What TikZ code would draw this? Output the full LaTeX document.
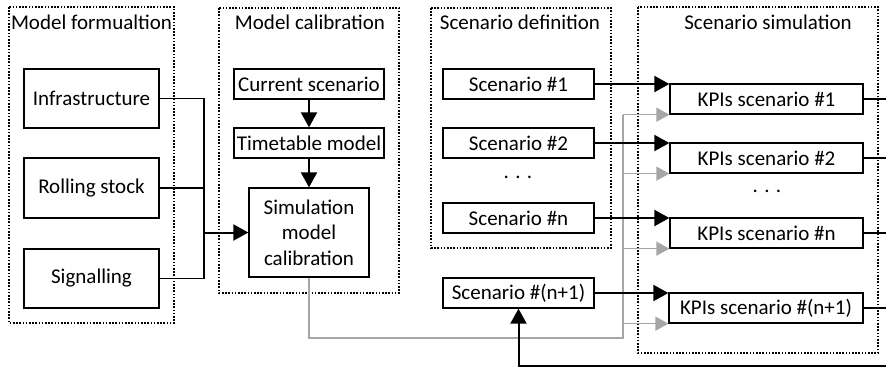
\documentclass[tikz,border=0pt]{standalone}
\usepackage{fontspec}
\setmainfont{Carlito}
\usetikzlibrary{arrows.meta}
\definecolor{feedgray}{RGB}{166,166,166}
\begin{document}
\begin{tikzpicture}[x=1pt,y=-1pt,
  font=\fontsize{21}{25.5}\selectfont,
  box/.style={draw, line width=1.3pt, inner sep=0pt, align=center},
  frame/.style={draw, line width=1.2pt, dash pattern=on 1.6pt off 1.6pt},
  ttl/.style={inner sep=0pt},
  wire/.style={line width=1.2pt},
  flow/.style={line width=2pt, -{Triangle[length=15pt,width=16pt]}},
  feedline/.style={line width=1.5pt, draw=feedgray},
  feed/.style={line width=1.5pt, draw=feedgray, fill=feedgray, -{Triangle[length=13pt,width=14pt]}},
]
\useasboundingbox (0,0) rectangle (886,368);

% stage frames
\draw[frame] (9,7) rectangle (174,323);
\draw[frame] (219,8) rectangle (399,293);
\draw[frame] (431,8) rectangle (611,248);
\draw[frame] (638,7) rectangle (878,353);

% stage titles
\node[ttl] (t1) at (91.5,22) {Model formualtion};
\node[ttl] (t2) at (310,22) {Model calibration};
\node[ttl] (t3) at (520,22) {Scenario definition};
\node[ttl] (t4) at (768,22) {Scenario simulation};

% model formulation
\node[box, minimum width=135pt, minimum height=59pt] (infra) at (91.5,98.5) {Infrastructure};
\node[box, minimum width=135pt, minimum height=60pt] (rolling) at (91.5,188) {Rolling stock};
\node[box, minimum width=135pt, minimum height=59pt] (signal) at (91.5,278.5) {Signalling};

% model calibration
\node[box, minimum width=150pt, minimum height=30pt] (current) at (309,84) {Current scenario};
\node[box, minimum width=150pt, minimum height=30pt] (timetable) at (309,143) {Timetable model};
\node[box, minimum width=120pt, minimum height=89pt] (simcal) at (309,232.5) {Simulation\\model\\calibration};

% scenario definition
\node[box, minimum width=151pt, minimum height=30pt] (s1) at (518.5,84) {Scenario \#1};
\node[box, minimum width=151pt, minimum height=30pt] (s2) at (518.5,143) {Scenario \#2};
\node (dots1) at (518,177) {. . .};
\node[box, minimum width=151pt, minimum height=30pt] (sn) at (518.5,218) {Scenario \#n};
\node[box, minimum width=151pt, minimum height=30pt] (sn1) at (518.5,293) {Scenario \#(n+1)};

% scenario simulation
\node[box, minimum width=193pt, minimum height=30pt] (k1) at (766.5,99) {KPIs scenario \#1};
\node[box, minimum width=193pt, minimum height=30pt] (k2) at (766.5,158) {KPIs scenario \#2};
\node (dots2) at (767,191) {. . .};
\node[box, minimum width=193pt, minimum height=30pt] (kn) at (766.5,233) {KPIs scenario \#n};
\node[box, minimum width=194pt, minimum height=30pt] (kn1) at (766,308) {KPIs scenario \#(n+1)};

% inputs gathered into the calibration step
\coordinate (bus) at (204,232.5);
\draw[wire] (infra.east) -| (bus);
\draw[wire] (signal.east) -| (bus);
\draw[wire] (rolling.east) -- (rolling.east -| bus);
\draw[flow] (bus) -- (simcal.west);
\draw[flow] (current.south) -- (timetable.north);
\draw[flow] (timetable.south) -- (simcal.north);

% calibrated model fed to every simulation
\coordinate (gbus) at (623,338);
\draw[feedline] (simcal.south) |- (gbus) -- (gbus |- k1.south west);
\draw[feed] (gbus |- k1.south west) -- (k1.south west);
\draw[feed] (gbus |- k2.south west) -- (k2.south west);
\draw[feed] (gbus |- kn.south west) -- (kn.south west);
\draw[feed] (gbus |- kn1.south west) -- (kn1.south west);

% scenarios to simulations
\draw[flow] (s1.east) -- (s1.east -| k1.west);
\draw[flow] (s2.east) -- (s2.east -| k2.west);
\draw[flow] (sn.east) -- (sn.east -| kn.west);
\draw[flow] (sn1.east) -- (sn1.east -| kn1.west);

% results leaving to the right and the loop back
\coordinate (outR) at (886,366);
\draw[wire] (k1.east) -- (k1.east -| outR);
\draw[wire] (k2.east) -- (k2.east -| outR);
\draw[wire] (kn.east) -- (kn.east -| outR);
\draw[wire] (kn1.east) -- (kn1.east -| outR);
\draw[flow] (outR) -| (sn1.south);
\end{tikzpicture}
\end{document}
